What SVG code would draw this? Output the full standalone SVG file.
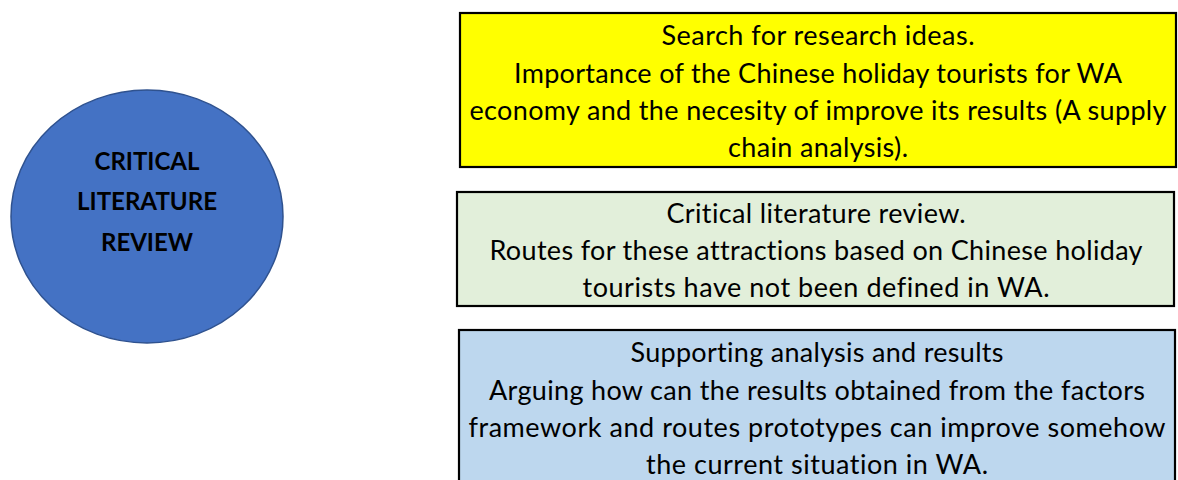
<svg xmlns="http://www.w3.org/2000/svg" width="1178" height="480" viewBox="0 0 1178 480">
<style>
.box{stroke:#000;stroke-width:2.2}
.t{font-family:Lato,"Liberation Sans",sans-serif;font-size:27px;fill:#000;text-anchor:middle;font-variant-ligatures:none}
.c{font-family:Lato,"Liberation Sans",sans-serif;font-size:24px;font-weight:bold;fill:#000;text-anchor:middle}
</style>
<rect width="1178" height="480" fill="#fff"/>
<g id="circle-node">
<ellipse cx="147" cy="216.5" rx="136" ry="126.5" fill="#4472C4" stroke="#2F528F" stroke-width="1.5"/>
<text class="c" x="147" y="170">CRITICAL</text>
<text class="c" x="147" y="210" textLength="140" lengthAdjust="spacingAndGlyphs">LITERATURE</text>
<text class="c" x="147" y="251">REVIEW</text>
</g>
<g id="box-search">
<rect class="box" x="460" y="13" width="716" height="154" fill="#FFFF00"/>
<text class="t" x="818" y="45" textLength="313">Search for research ideas.</text>
<text class="t" x="818" y="83" textLength="608">Importance of the Chinese holiday tourists for WA</text>
<text class="t" x="818" y="120" textLength="697">economy and the necesity of improve its results (A supply</text>
<text class="t" x="818" y="157" textLength="180">chain analysis).</text>
</g>
<g id="box-review">
<rect class="box" x="457" y="192" width="717" height="114" fill="#E2EFDA"/>
<text class="t" x="816" y="223" textLength="299">Critical literature review.</text>
<text class="t" x="816" y="260" textLength="653">Routes for these attractions based on Chinese holiday</text>
<text class="t" x="816" y="297" textLength="467">tourists have not been defined in WA.</text>
</g>
<g id="box-support">
<rect class="box" x="459" y="330" width="716" height="160" fill="#BDD7EE"/>
<text class="t" x="817" y="362" textLength="373">Supporting analysis and results</text>
<text class="t" x="817" y="400" textLength="656">Arguing how can the results obtained from the factors</text>
<text class="t" x="817" y="437" textLength="697">framework and routes prototypes can improve somehow</text>
<text class="t" x="817" y="474" textLength="342">the current situation in WA.</text>
</g>
<g id="connectors"/>
</svg>
